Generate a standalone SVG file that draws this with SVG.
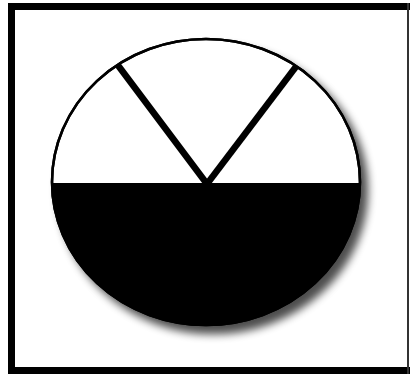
<svg xmlns="http://www.w3.org/2000/svg" width="411" height="378" viewBox="0 0 411 378">
  <defs>
    <filter id="shadow" x="-20%" y="-20%" width="140%" height="140%">
      <feGaussianBlur in="SourceAlpha" stdDeviation="4"/>
      <feOffset dx="7" dy="8" result="b"/>
      <feComponentTransfer><feFuncA type="linear" slope="0.7"/></feComponentTransfer>
      <feMerge><feMergeNode/><feMergeNode in="SourceGraphic"/></feMerge>
    </filter>
    <clipPath id="lower"><rect x="0" y="183" width="411" height="200"/></clipPath>
    <clipPath id="inside"><ellipse cx="206" cy="182" rx="154" ry="143"/></clipPath>
  </defs>
  <style>
    .frame { fill: #000; }
    .rim { fill: #fff; stroke: #000; stroke-width: 2.5; }
    .spoke { stroke: #000; stroke-width: 6.5; stroke-linecap: butt; fill: none; }
  </style>
  <rect x="0" y="0" width="411" height="378" fill="#fff"/>
  <g id="frame">
    <rect class="frame" x="8" y="3" width="402" height="7"/>
    <rect class="frame" x="8" y="3" width="7" height="371"/>
    <rect class="frame" x="8" y="367" width="402" height="7"/>
    <rect x="407" y="3" width="2" height="371" fill="#333"/>
  </g>
  <g id="gauge">
    <ellipse class="rim" cx="206" cy="182" rx="154" ry="143" filter="url(#shadow)"/>
    <ellipse cx="206" cy="182" rx="154" ry="143" fill="#000" clip-path="url(#lower)"/>
    <g clip-path="url(#inside)">
      <line class="spoke" x1="207" y1="184" x2="117" y2="64"/>
      <line class="spoke" x1="207" y1="184" x2="298" y2="64"/>
    </g>
    <ellipse cx="206" cy="182" rx="154" ry="143" fill="none" stroke="#000" stroke-width="2.5"/>
  </g>
</svg>
